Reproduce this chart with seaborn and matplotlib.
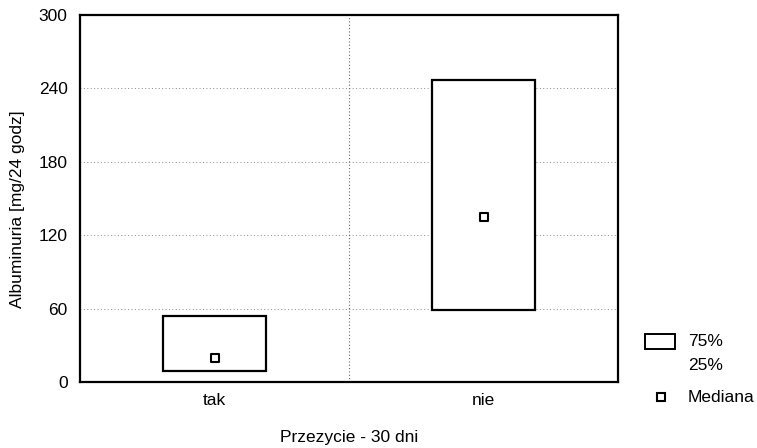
import matplotlib
matplotlib.use("Agg")
import matplotlib.pyplot as plt
from matplotlib.patches import Rectangle
from matplotlib.lines import Line2D
import seaborn as sns
import pandas as pd

# Albuminuria by 30-day survival: interquartile range and median
categories = ["tak", "nie"]
q25 = [9, 59]
q75 = [54, 247]
median = [20, 135]
y_ticks = [0, 60, 120, 180, 240, 300]

df = pd.DataFrame({
    "grupa": categories,
    "q25": q25,
    "iqr": [hi - lo for lo, hi in zip(q25, q75)],
    "mediana": median,
})

sns.set_theme(style="white")
plt.rcParams["font.family"] = ["Liberation Sans", "DejaVu Sans"]
plt.rcParams["text.color"] = "black"

FS = 12.5
fig = plt.figure(figsize=(7.57, 4.48), dpi=100)
ax = fig.add_axes([0.1057, 0.1473, 0.7107, 0.8192])

sns.barplot(data=df, x="grupa", y="iqr", bottom=df["q25"].values,
            order=categories, width=0.38, color="white",
            edgecolor="black", linewidth=1.6, errorbar=None,
            zorder=3, ax=ax)
sns.scatterplot(data=df, x="grupa", y="mediana", marker="s", s=30,
                facecolor="white", edgecolor="black", linewidth=1.5,
                zorder=4, ax=ax)

ax.set_xlim(-0.5, 1.5)
ax.set_ylim(0, 300)
ax.set_yticks(y_ticks)
ax.set_yticklabels([str(v) for v in y_ticks])
ax.set_xticks([0, 1])
ax.set_xticklabels(categories)

# dotted grid: horizontal at y ticks, vertical between the groups
for v in y_ticks[1:-1]:
    ax.axhline(v, color="#888888", linestyle=(0, (1, 2.5)), linewidth=0.7, zorder=1)
ax.axvline(0.5, color="#666666", linestyle=(0, (1, 2)), linewidth=0.8, zorder=1)

for sp in ax.spines.values():
    sp.set_visible(True)
    sp.set_color("black")
    sp.set_linewidth(1.6)

ax.tick_params(axis="both", length=0, labelsize=FS, colors="black")
ax.tick_params(axis="y", pad=9)
ax.tick_params(axis="x", pad=8)

ax.set_xlabel("Przezycie - 30 dni", fontsize=FS, labelpad=16, color="black")
ax.set_ylabel("Albuminuria [mg/24 godz]", fontsize=FS, labelpad=10, color="black")
ax.yaxis.label.set_y(0.47)

# legend drawn in figure coordinates
W, H = 757, 448
fig.add_artist(Rectangle((645 / W, 1 - 349 / H), 30 / W, 15 / H,
                         transform=fig.transFigure, facecolor="white",
                         edgecolor="black", linewidth=1.4))
fig.text(688 / W, 1 - 342 / H, "75%", fontsize=FS, va="center", ha="left", color="black")
fig.text(688 / W, 1 - 365 / H, "25%", fontsize=FS, va="center", ha="left", color="black")
fig.add_artist(Line2D([661 / W], [1 - 397 / H], transform=fig.transFigure,
                      marker="s", markersize=5.5, markerfacecolor="white",
                      markeredgecolor="black", markeredgewidth=1.5, linestyle="none"))
fig.text(688 / W, 1 - 397 / H, "Mediana", fontsize=FS, va="center", ha="left", color="black")

fig.savefig("out.png", dpi=100, facecolor="white")
